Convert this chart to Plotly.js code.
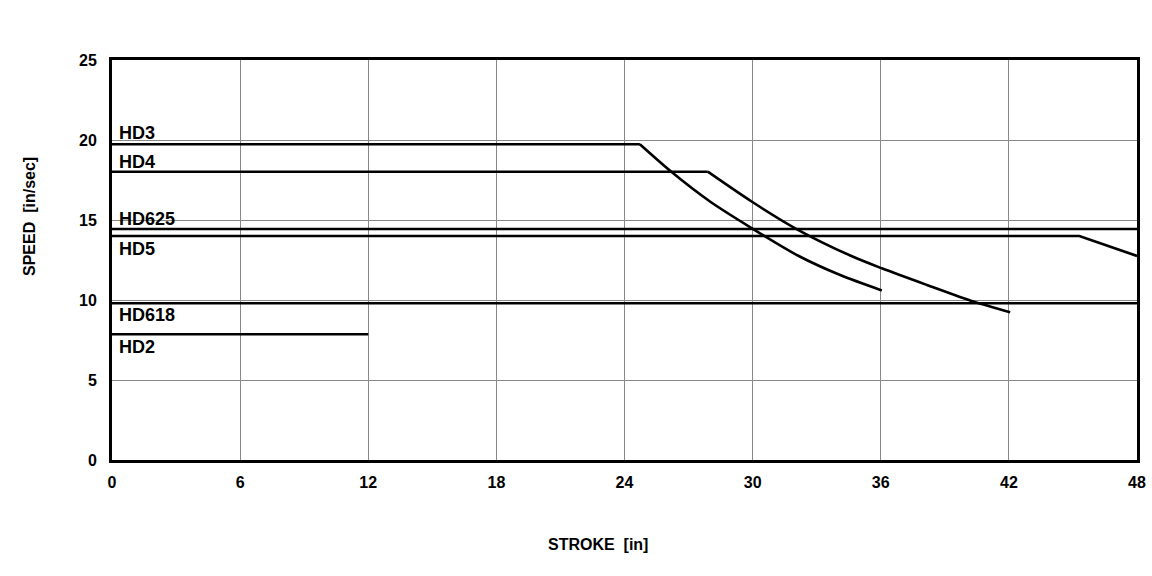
<!DOCTYPE html>
<html>
<head>
<meta charset="utf-8">
<script src="https://cdn.plot.ly/plotly-3.0.1.min.js"></script>
<style>html,body{margin:0;padding:0;background:#fff;}#chart{width:1152px;height:576px;}</style>
</head>
<body>
<div id="chart"></div>
<script>
// Data
const seriesNames = ["HD3", "HD4", "HD625", "HD5", "HD618", "HD2"];
const hd3X = [0, 24.72, 26.15, 28.02, 29.97, 32.16, 34.1, 36.05];
const hd3Y = [19.73, 19.73, 18.06, 16.14, 14.48, 12.75, 11.56, 10.6];
const hd4X = [0, 27.9, 29.97, 32.08, 34.57, 36.05, 38.16, 40.34, 42.06];
const hd4Y = [18.02, 18.02, 16.14, 14.42, 12.78, 11.98, 10.94, 9.9, 9.23];
const hd625X = [0, 48];
const hd625Y = [14.44, 14.44];
const hd5X = [0, 45.3, 48];
const hd5Y = [14.0, 14.0, 12.75];
const hd618X = [0, 48];
const hd618Y = [9.8, 9.8];
const hd2X = [0, 12];
const hd2Y = [7.86, 7.86];
const labelY = [20.44, 18.64, 15.06, 13.19, 9.06, 7.08];
const xTicks = [0, 6, 12, 18, 24, 30, 36, 42, 48];
const yTicks = [0, 5, 10, 15, 20, 25];

const FONT = "Liberation Sans, Arial, sans-serif";
const xs = [hd3X, hd4X, hd625X, hd5X, hd618X, hd2X];
const ys = [hd3Y, hd4Y, hd625Y, hd5Y, hd618Y, hd2Y];

const traces = [];
seriesNames.forEach((n, i) => {
  if (i < 2) {
    // flat part (linear) + falling part (smoothed)
    traces.push({x: xs[i].slice(0, 2), y: ys[i].slice(0, 2), name: n, type: "scatter", mode: "lines",
      line: {color: "#000", width: 2.6}, hoverinfo: "skip"});
    traces.push({x: xs[i].slice(1), y: ys[i].slice(1), name: n, type: "scatter", mode: "lines",
      line: {color: "#000", width: 2.6, shape: "spline", smoothing: 0.8}, hoverinfo: "skip"});
  } else {
    traces.push({x: xs[i], y: ys[i], name: n, type: "scatter", mode: "lines",
      line: {color: "#000", width: 2.6}, hoverinfo: "skip"});
  }
});

const annotations = seriesNames.map((n, i) => ({
  text: n, x: 0.25, y: labelY[i], xref: "x", yref: "y",
  xanchor: "left", yanchor: "middle", showarrow: false,
  font: {family: FONT, size: 18, color: "#000", weight: "bold"}
}));
annotations.push({
  text: "STROKE  [in]", xref: "paper", yref: "paper", x: 0.474, y: -0.21,
  xanchor: "center", yanchor: "middle", showarrow: false,
  font: {family: FONT, size: 16, color: "#000", weight: "bold"}
});
annotations.push({
  text: "SPEED  [in/sec]", xref: "paper", yref: "paper", x: -0.081, y: 0.61,
  xanchor: "center", yanchor: "middle", showarrow: false, textangle: -90,
  font: {family: FONT, size: 16, color: "#000", weight: "bold"}
});

const layout = {
  width: 1152, height: 576,
  margin: {l: 112, r: 15, t: 60, b: 116},
  paper_bgcolor: "#fff", plot_bgcolor: "#fff",
  showlegend: false,
  xaxis: {
    range: [0, 48], tickvals: xTicks, ticktext: xTicks.map(String),
    showgrid: true, gridcolor: "#888", gridwidth: 1, zeroline: false,
    showline: true, mirror: true, linecolor: "#000", linewidth: 3,
    ticks: "outside", ticklen: 6, tickcolor: "rgba(0,0,0,0)",
    tickfont: {family: FONT, size: 16, color: "#000", weight: "bold"}
  },
  yaxis: {
    range: [0, 25], tickvals: yTicks, ticktext: yTicks.map(String),
    showgrid: true, gridcolor: "#888", gridwidth: 1, zeroline: false,
    showline: true, mirror: true, linecolor: "#000", linewidth: 3,
    ticks: "outside", ticklen: 9, tickcolor: "rgba(0,0,0,0)",
    tickfont: {family: FONT, size: 16, color: "#000", weight: "bold"}
  },
  annotations: annotations
};

Plotly.newPlot("chart", traces, layout, {displayModeBar: false, staticPlot: true});
</script>
</body>
</html>
